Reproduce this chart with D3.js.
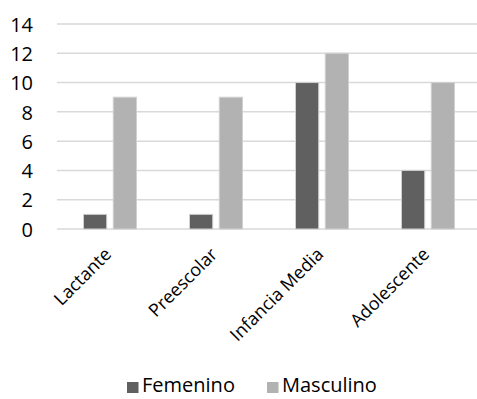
<!DOCTYPE html>
<html>
<head>
<meta charset="utf-8">
<script src="https://cdn.jsdelivr.net/npm/d3@7/dist/d3.min.js"></script>
<style>
  html, body { margin: 0; padding: 0; background: #fff; }
  svg { display: block; font-family: "Open Sans", sans-serif; }
</style>
</head>
<body>
<svg id="chart" width="477" height="399"></svg>
<script>
// Age groups and counts per sex
const categories = ["Lactante", "Preescolar", "Infancia Media", "Adolescente"];
const seriesNames = ["Femenino", "Masculino"];
const femenino = [1, 1, 10, 4];
const masculino = [9, 9, 12, 10];
const yTicks = [0, 2, 4, 6, 8, 10, 12, 14];
const colors = ["#606060", "#b2b2b2"];

const svg = d3.select("#chart");
const margin = { left: 57, right: -4, top: 24, bottom: 170 };
const W = 477, H = 399;

const x = d3.scaleBand()
  .domain(categories)
  .range([margin.left, W - margin.right])
  .paddingInner(0.5)
  .paddingOuter(0.25);

const xInner = d3.scaleBand()
  .domain(seriesNames)
  .range([0, x.bandwidth()])
  .paddingInner(0.22);

const y = d3.scaleLinear()
  .domain([0, 14])
  .range([229, 24]);

// horizontal gridlines
svg.append("g")
  .selectAll("line")
  .data(yTicks)
  .join("line")
  .attr("x1", margin.left)
  .attr("x2", W)
  .attr("y1", d => y(d))
  .attr("y2", d => y(d))
  .attr("stroke", "#d9d9d9")
  .attr("stroke-width", 1.5);

// y axis labels
const yAxis = d3.axisLeft(y).tickValues(yTicks).tickSize(0).tickPadding(0);
const gy = svg.append("g").attr("transform", "translate(33,0)").call(yAxis);
gy.select(".domain").remove();
gy.selectAll("text")
  .attr("font-family", "Open Sans, sans-serif")
  .attr("font-size", 20)
  .attr("fill", "#000")
  .attr("dy", "0.36em");

// bars
const rows = categories.map((c, i) => ({ cat: c, values: [femenino[i], masculino[i]] }));
svg.append("g")
  .selectAll("g")
  .data(rows)
  .join("g")
  .attr("transform", d => `translate(${x(d.cat)},0)`)
  .selectAll("rect")
  .data(d => d.values.map((v, j) => ({ name: seriesNames[j], v, j })))
  .join("rect")
  .attr("x", d => xInner(d.name))
  .attr("width", xInner.bandwidth())
  .attr("y", d => y(d.v))
  .attr("height", d => y(0) - y(d.v))
  .attr("fill", d => colors[d.j])
  .attr("stroke", "#d0d0d0")
  .attr("stroke-width", 1);

// x axis category labels, rotated
const xAxis = d3.axisBottom(x).tickSize(0).tickPadding(0);
const gx = svg.append("g").attr("transform", "translate(-2,251)").call(xAxis);
gx.select(".domain").remove();
gx.selectAll("text")
  .attr("font-family", "Open Sans, sans-serif")
  .attr("font-size", 18)
  .attr("fill", "#000")
  .attr("text-anchor", "end")
  .attr("dy", "0.35em")
  .attr("transform", "rotate(-45)");

// legend
const legend = svg.append("g");
const legendItems = [
  { name: seriesNames[0], color: colors[0], x: 127 },
  { name: seriesNames[1], color: colors[1], x: 267 }
];
const li = legend.selectAll("g").data(legendItems).join("g")
  .attr("transform", d => `translate(${d.x},0)`);
li.append("rect")
  .attr("x", 0).attr("y", 382)
  .attr("width", 11.5).attr("height", 11)
  .attr("fill", d => d.color);
li.append("text")
  .attr("x", 15).attr("y", 392)
  .attr("font-family", "Open Sans, sans-serif")
  .attr("font-size", 20)
  .attr("fill", "#000")
  .text(d => d.name);
</script>
</body>
</html>
